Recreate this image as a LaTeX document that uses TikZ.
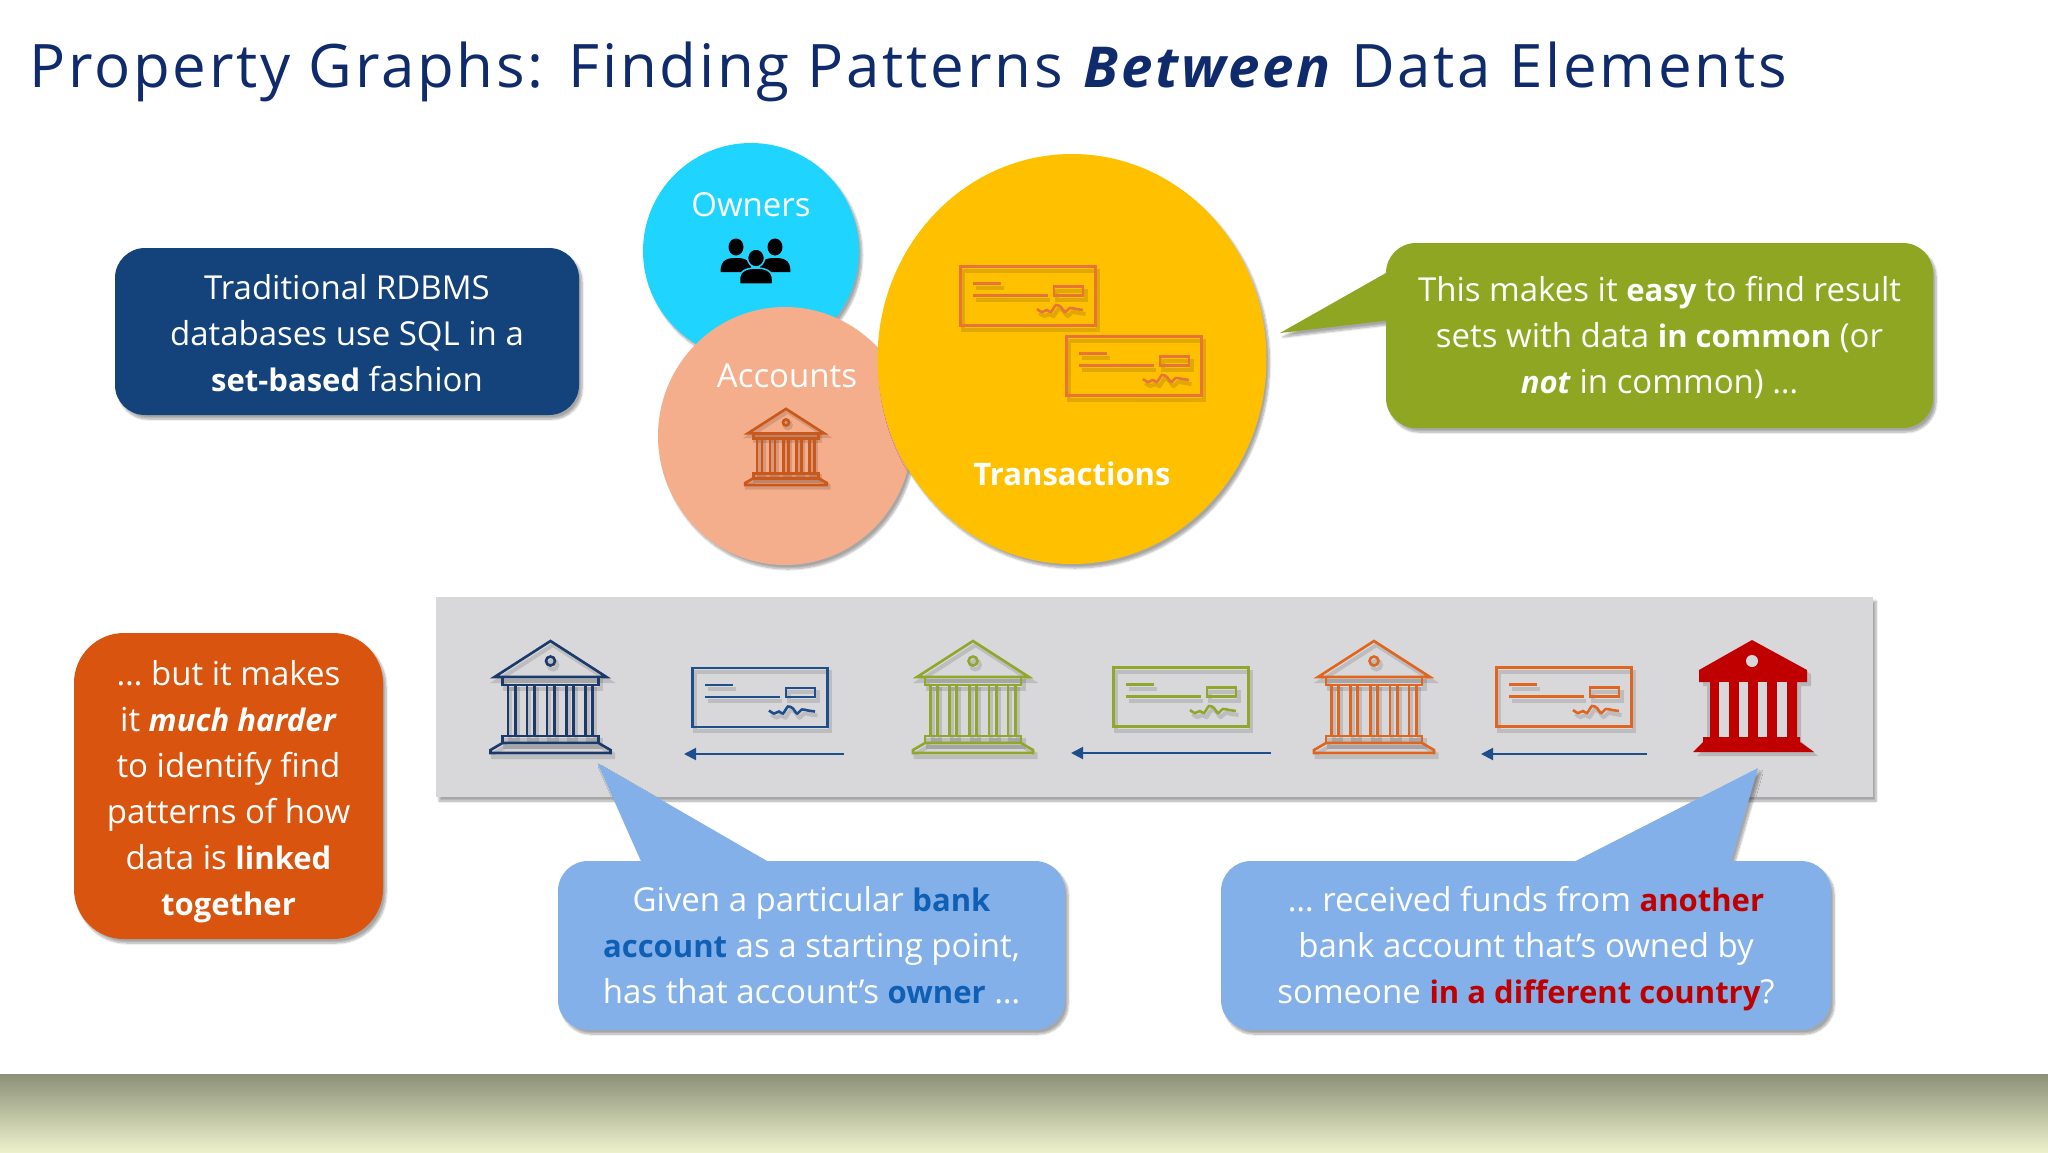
\documentclass[tikz,border=0pt]{standalone}
\usepackage{fontspec}
\setmainfont[BoldFeatures={Scale=0.94},BoldItalicFeatures={Scale=0.94}]{Open Sans}
\newfontfamily\titlefont[LetterSpace=4.6,BoldItalicFeatures={Scale=0.94}]{Open Sans}
\usepackage{tikz}
\usetikzlibrary{positioning, arrows.meta, shapes.geometric, shadows.blur}

\definecolor{titleblue}{HTML}{0F2B6B}
\definecolor{navyfill}{HTML}{14427A}
\definecolor{olivefill}{HTML}{8FA622}
\definecolor{rustfill}{HTML}{D9540F}
\definecolor{skyfill}{HTML}{83B0E8}
\definecolor{panelgray}{HTML}{D8D8DA}
\definecolor{ownercyan}{HTML}{1FD5FF}
\definecolor{accountpeach}{HTML}{F5AE8B}
\definecolor{txyellow}{HTML}{FFC000}
\definecolor{banknavy}{HTML}{1B3A6B}
\definecolor{checknavy}{HTML}{1F4E8C}
\definecolor{bankgreen}{HTML}{8FA82B}
\definecolor{bankorange}{HTML}{E0651F}
\definecolor{bankrust}{HTML}{C9581A}
\definecolor{checkorange}{HTML}{E8743B}
\definecolor{bankred}{HTML}{C00000}
\definecolor{linkblue}{HTML}{0F5FB5}
\definecolor{bandtop}{HTML}{8B9078}
\definecolor{bandbottom}{HTML}{EDF1CB}

\newcommand{\bluebold}[1]{\textbf{\textcolor{linkblue}{#1}}}
\newcommand{\redbold}[1]{\textbf{\textcolor{bankred}{#1}}}

\newcommand{\bankpaths}{
	\draw (-56,-76) -- (0,-112) -- (56,-76) -- cycle;
	\draw (0,-92) circle (4.5);
	\draw (-48,-76) rectangle (48,-68);
	\foreach \xc in {-39,-20,0,19.5,38.5}
		\draw ({\xc-3.7},-68) rectangle ({\xc+3.7},-17);
	\draw (-48,-17) rectangle (48,-10);
	\draw (-48,-10) -- (-60,-3) -- (-60,0) -- (60,0) -- (60,-3) -- (48,-10) -- cycle;
}
\newcommand{\checkpaths}{
	\draw (-67.5,-29.5) rectangle (67.5,29.5);
	\draw (-55,-12.5) -- (-27,-12.5);
	\draw (-55,-.5) -- (19.5,-.5);
	\draw (26,-9.5) rectangle (55,-.5);
	\draw plot[smooth] coordinates {(9,13) (14,16) (19,14) (23,16) (28,9) (33,11) (37,16) (42,12) (48,13) (55,14)};
}

\tikzset{
	pics/bankicon/.style={code={
		\begin{scope}[shift={(2.5,4)},draw=black,opacity=.12,line width=4pt]\bankpaths\end{scope}
		\begin{scope}[draw=#1,line width=2.6pt]\bankpaths\end{scope}
	}},
	pics/checkicon/.style={code={
		\begin{scope}[shift={(2.5,4)},draw=black,opacity=.12,line width=4pt]\checkpaths\end{scope}
		\begin{scope}[draw=#1,line width=2.6pt]\checkpaths\end{scope}
	}},
}

\begin{document}
\begin{tikzpicture}
[x=1pt,y=-1pt,on grid,inner sep=0pt,
	softshadow/.style={blur shadow={shadow xshift=3pt,shadow yshift=-4pt,shadow blur steps=8,shadow opacity=35}},
	bubble/.style={ellipse,softshadow},
	bubblelabel/.style={text=white,font=\fontsize{33}{38}\selectfont},
	textbox/.style={rectangle,rounded corners=30pt,softshadow},
	boxtext/.style={text=white,align=center,font=\fontsize{33}{46}\selectfont,
		execute at begin node=\strut,execute at end node=\strut},
	tail/.style={softshadow},
	flowarrow/.style={-{Triangle[length=12pt,width=12pt]},draw=checknavy,line width=2pt}]

\useasboundingbox (0,0) rectangle (2048,1152);
\shade[top color=bandtop,bottom color=bandbottom] (0,1074) rectangle (2048,1152);

\node[anchor=base west,text=titleblue,font=\fontsize{60}{72}\selectfont\titlefont] (title) at (29,87)
	{Property Graphs: Finding Patterns \textbf{\textit{Between}} Data Elements};

\node[bubble,fill=ownercyan,minimum width=216pt,minimum height=216pt] (owners) at (751,251) {};
\node[bubble,fill=accountpeach,minimum width=254pt,minimum height=258pt,below right=185pt and 34pt of owners] (accounts) {};
\node[bubble,fill=txyellow,minimum width=389pt,minimum height=410pt,above right=77pt and 287pt of accounts] (transactions) {};

\node[bubblelabel] (ownerslabel) at (751,205) {Owners};
\node[bubblelabel] (accountslabel) at (787,376) {Accounts};
\node[bubblelabel] (txlabel) at (1072,474) {\textbf{Transactions}};

\fill (736,247) ellipse (7.5 and 8.5);
\fill (775,247) ellipse (7.5 and 8.5);
\fill (720.5,272) .. controls (720.5,259) and (728,258) .. (736,258) .. controls (744,258) and (751.5,259) .. (751.5,272) -- cycle;
\fill (759.5,272) .. controls (759.5,259) and (767,258) .. (775,258) .. controls (783,258) and (790.5,259) .. (790.5,272) -- cycle;
\fill[draw=ownercyan,line width=1.5pt] (756,258) ellipse (8.5 and 9);
\fill[draw=ownercyan,line width=1.5pt] (739.5,284) -- (739.5,279) .. controls (739.5,270) and (748,268) .. (756,268) .. controls (764,268) and (772.5,270) .. (772.5,279) -- (772.5,284) -- cycle;

\pic[scale=.68] at (786,485) {bankicon=bankrust};
\pic at (1028,296) {checkicon=checkorange};
\pic at (1134,366) {checkicon=checkorange};

\node[rectangle,fill=panelgray,softshadow,minimum width=1437pt,minimum height=200pt] (panel) at (1154.5,697) {};

\coordinate (navybank) at (550.5,753);
\coordinate[right=422.5pt of navybank] (greenbank);
\coordinate[right=401pt of greenbank] (orangebank);
\pic at (navybank) {bankicon=banknavy};
\pic at (greenbank) {bankicon=bankgreen};
\pic at (orangebank) {bankicon=bankorange};

\fill[black,opacity=.15] (1755,644) -- (1811,674) -- (1811,686) -- (1801,686) -- (1801,741) -- (1818,756) -- (1697,756) -- (1707,746) -- (1707,686) -- (1703,686) -- (1703,674) -- cycle;
\fill[bankred] (1752,640) -- (1807,670) -- (1807,682) -- (1797,682) -- (1797,737) -- (1800,737) -- (1800,742) -- (1814,752) -- (1693,752) -- (1703,742) -- (1703,737) -- (1710,737) -- (1710,682) -- (1699,682) -- (1699,670) -- cycle;
\fill[panelgray] (1752,661) circle (6);
\foreach \xc in {1724,1743.5,1762.5,1782}
	\fill[panelgray] ({\xc-4.7},682) rectangle ({\xc+4.7},737);

\pic at (760,697.5) {checkicon=checknavy};
\pic at (1181,697) {checkicon=bankgreen};
\pic at (1564,697) {checkicon=bankorange};

\coordinate (firstend) at (684,754);
\coordinate[right=160pt of firstend] (firststart);
\coordinate (secondend) at (1071,753);
\coordinate[right=200pt of secondend] (secondstart);
\coordinate (thirdend) at (1481,754);
\coordinate[right=166pt of thirdend] (thirdstart);
\path
	(firststart) edge[flowarrow] (firstend)
	(secondstart) edge[flowarrow] (secondend)
	(thirdstart) edge[flowarrow] (thirdend);

\coordinate (greentip) at (1280,333);
\coordinate (bluetip) at (597.5,763);
\coordinate (othertip) at (1758,768);

\fill[olivefill,tail] (greentip) -- (1400,265) -- (1400,319) -- cycle;
\fill[skyfill,tail] (bluetip) -- (782.6,870) -- (645,870) -- cycle;
\fill[skyfill,tail] (othertip) -- (1728.4,870) -- (1558,870) -- cycle;

\node[textbox,fill=navyfill,minimum width=464pt,minimum height=167pt] (rdbms) at (347,331.5) {};
\node[boxtext] (rdbmstext) at ([yshift=-8pt]rdbms.center)
	{Traditional RDBMS\\databases use SQL in a\\\textbf{set-based} fashion};
\node[textbox,fill=olivefill,minimum width=547pt,minimum height=185pt] (easy) at (1659.5,335.5) {};
\node[boxtext] (easytext) at ([yshift=-6.5pt]easy.center)
	{This makes it \textbf{easy} to find result\\sets with data \textbf{in common} (or\\\textbf{\textit{not}} in common) …};
\node[textbox,fill=rustfill,rounded corners=50pt,minimum width=309pt,minimum height=306pt] (harder) at (228.5,786) {};
\node[boxtext] (hardertext) at ([yshift=-8.5pt]harder.center)
	{… but it makes\\it \textbf{\textit{much harder}}\\to identify find\\patterns of how\\data is \textbf{linked}\\\textbf{together}};
\node[textbox,fill=skyfill,minimum width=507pt,minimum height=169pt] (given) at (811.5,945.5) {};
\node[boxtext] (giventext) at ([yshift=-6.5pt]given.center)
	{Given a particular \bluebold{bank}\\\bluebold{account} as a starting point,\\has that account’s \bluebold{owner} …};
\node[textbox,fill=skyfill,minimum width=610pt,minimum height=169pt,right=714.5pt of given] (received) {};
\node[boxtext] (receivedtext) at ([yshift=-6.5pt]received.center)
	{… received funds from \redbold{another}\\bank account that’s owned by\\someone \redbold{in a different country}?};
\end{tikzpicture}
\end{document}
